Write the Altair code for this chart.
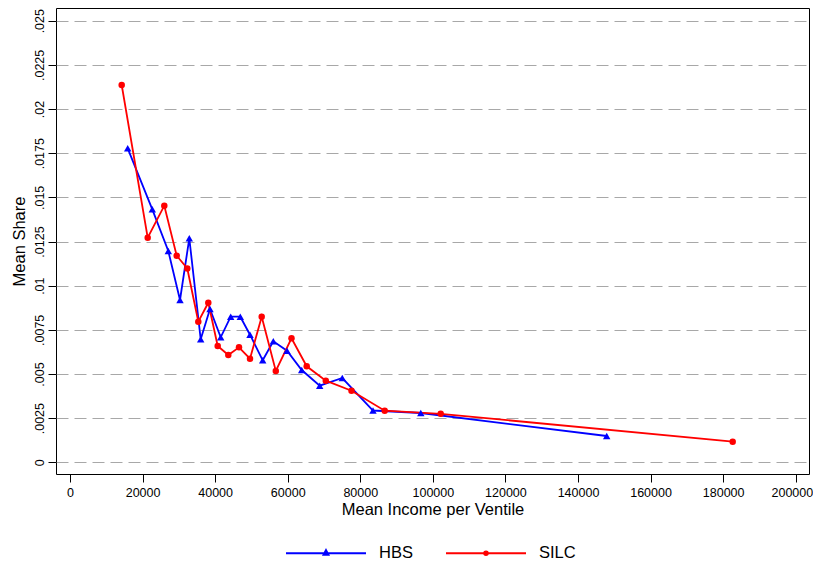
import altair as alt
import pandas as pd

series_names = ["HBS", "SILC"]

hbs_income = [15902, 22681, 27091, 30316, 32879, 36021, 38583, 41532, 44288, 46934,
              49607, 53107, 56029, 59804, 63856, 68816, 75045, 83506, 96679, 147912]
hbs_share = [0.017776, 0.014323, 0.011962, 0.009188, 0.012681, 0.006963, 0.008679, 0.007076,
             0.008243, 0.008243, 0.007224, 0.005774, 0.006850, 0.006318, 0.005225, 0.004337,
             0.004772, 0.002933, 0.002791, 0.001489]

silc_income = [14248, 21414, 25989, 29406, 32327, 35359, 38115, 40706, 43627, 46576,
               49607, 52832, 56718, 61045, 65234, 70498, 77580, 86730, 102164, 182637]
silc_share = [0.021360, 0.012715, 0.014527, 0.011696, 0.010971, 0.007960, 0.009035, 0.006584,
              0.006074, 0.006510, 0.005865, 0.008243, 0.005169, 0.007020, 0.005435, 0.004620,
              0.004053, 0.002921, 0.002746, 0.001166]

y_ticks = [0, 0.0025, 0.005, 0.0075, 0.01, 0.0125, 0.015, 0.0175, 0.02, 0.0225, 0.025]
x_ticks = [0, 20000, 40000, 60000, 80000, 100000, 120000, 140000, 160000, 180000, 200000]

series_colors = ["#0000ff", "#ff0000"]
legend_shapes = [
    "M-1,0L1,0M0,-0.075L0.06,0.04L-0.06,0.04Z",
    "M-1,0L1,0M-0.045,0A0.045,0.045,0,1,0,0.045,0A0.045,0.045,0,1,0,-0.045,0Z",
]

df = pd.concat([
    pd.DataFrame({"series": "HBS", "income": hbs_income, "share": hbs_share}),
    pd.DataFrame({"series": "SILC", "income": silc_income, "share": silc_share}),
], ignore_index=True)

FONT = "Liberation Sans"

x_enc = alt.X("income:Q",
              scale=alt.Scale(domain=[-3858, 203665], nice=False, zero=False),
              axis=alt.Axis(values=x_ticks, format="d", title="Mean Income per Ventile",
                            grid=False, domain=False, tickSize=8, tickColor="black",
                            labelFontSize=12.5, labelPadding=4, labelColor="black",
                            labelFlush=13.6, labelFlushOffset=17,
                            titleFontSize=16.5, titleFontWeight="normal", titleColor="black",
                            titlePadding=3, labelFont=FONT, titleFont=FONT))
y_enc = alt.Y("share:Q",
              scale=alt.Scale(domain=[-0.000662, 0.025719], nice=False, zero=False),
              axis=alt.Axis(values=y_ticks,
                            labelExpr="datum.value == 0 ? '0' : replace(format(datum.value, '.4~f'), '0.', '.')",
                            title="Mean Share", grid=True, gridDash=[12, 6], gridColor="#a8a8a8",
                            gridWidth=1, domain=False, tickSize=8, tickColor="black",
                            labelAngle=270, labelAlign="center", labelBaseline="bottom",
                            labelFontSize=12.5, labelPadding=2, labelColor="black",
                            titleFontSize=16.5, titleFontWeight="normal", titleColor="black",
                            titlePadding=6, labelFont=FONT, titleFont=FONT))

base = alt.Chart(df)
hbs = base.transform_filter(alt.datum.series == "HBS")
silc = base.transform_filter(alt.datum.series == "SILC")

line_hbs = hbs.mark_line(strokeWidth=1.8, color=series_colors[0]).encode(x=x_enc, y=y_enc)
line_silc = silc.mark_line(strokeWidth=1.8, color=series_colors[1]).encode(x=x_enc, y=y_enc)

pts_hbs = hbs.mark_point(shape="triangle-up", filled=True, size=55, opacity=1,
                         color=series_colors[0]).encode(x=x_enc, y=y_enc)
pts_silc = silc.mark_point(shape="circle", filled=True, size=42, opacity=1,
                           color=series_colors[1]).encode(x=x_enc, y=y_enc)

legend_props = dict(title=None, orient="none", legendX=229, legendY=504, direction="horizontal",
                    symbolSize=6400, symbolStrokeWidth=2, symbolOpacity=1,
                    labelFontSize=16.5, labelFont=FONT, labelColor="black",
                    labelOffset=12, columnPadding=29)

legend_layer = base.mark_point(filled=False, opacity=0, strokeWidth=2).encode(
    x=x_enc, y=y_enc,
    color=alt.Color("series:N", scale=alt.Scale(domain=series_names, range=series_colors),
                    legend=alt.Legend(**legend_props)),
    shape=alt.Shape("series:N", scale=alt.Scale(domain=series_names, range=legend_shapes),
                    legend=alt.Legend(**legend_props)),
)

chart = alt.layer(line_hbs, line_silc, pts_hbs, pts_silc, legend_layer).properties(
    width=753, height=466,
    background="white",
    autosize=alt.AutoSizeParams(type="none"),
    padding={"left": 48, "top": 0, "right": 4, "bottom": 86},
).configure_view(stroke="black", strokeWidth=1)

chart.save("out.html", embed_options={"renderer": "svg", "actions": False})
